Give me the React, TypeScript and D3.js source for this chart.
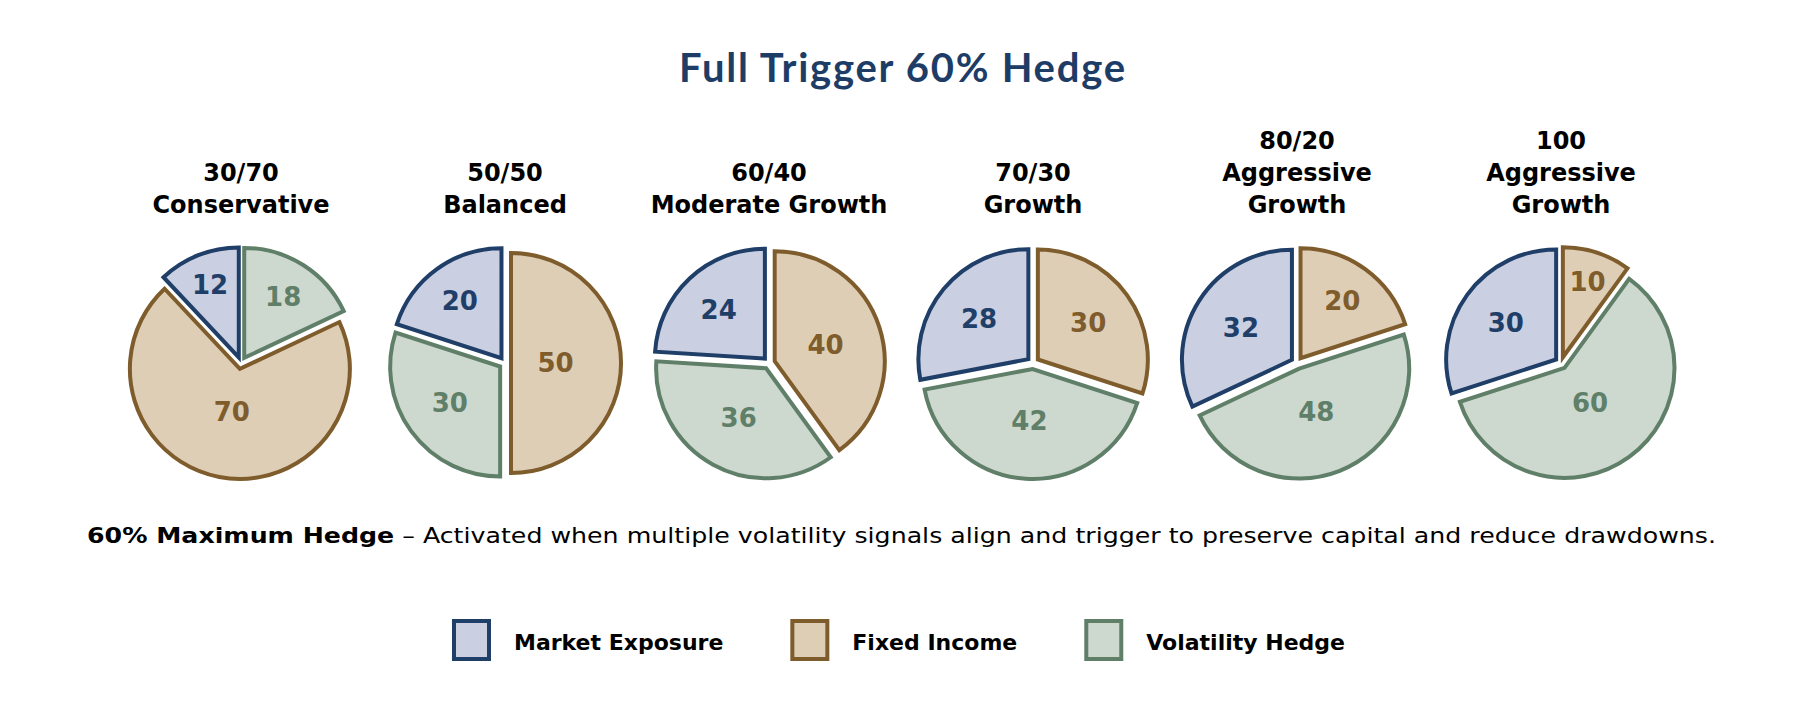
import * as d3 from "d3";
import { useEffect, useRef } from "react";

// chart values
const categories = ["30/70", "50/50", "60/40", "70/30", "80/20", "100"];
const subtitles = [
  ["Conservative"],
  ["Balanced"],
  ["Moderate Growth"],
  ["Growth"],
  ["Aggressive", "Growth"],
  ["Aggressive", "Growth"],
];
const seriesNames = ["Market Exposure", "Fixed Income", "Volatility Hedge"];
const marketExposure = [12, 20, 24, 28, 32, 30];
const fixedIncome = [70, 50, 40, 30, 20, 10];
const volatilityHedge = [18, 30, 36, 42, 48, 60];
// clockwise from 12 o'clock
const sliceOrder = [
  ["Volatility Hedge", "Fixed Income", "Market Exposure"],
  ["Fixed Income", "Volatility Hedge", "Market Exposure"],
  ["Fixed Income", "Volatility Hedge", "Market Exposure"],
  ["Fixed Income", "Volatility Hedge", "Market Exposure"],
  ["Fixed Income", "Volatility Hedge", "Market Exposure"],
  ["Fixed Income", "Volatility Hedge", "Market Exposure"],
];

const title = "Full Trigger 60% Hedge";
const noteBold = "60% Maximum Hedge";
const noteText =
  " \u2013 Activated when multiple volatility signals align and trigger to preserve capital and reduce drawdowns.";

const fills: Record<string, string> = {
  "Market Exposure": "#cacfe1",
  "Fixed Income": "#dfceb6",
  "Volatility Hedge": "#cdd8cf",
};
const strokes: Record<string, string> = {
  "Market Exposure": "#1f3e68",
  "Fixed Income": "#7e5c2c",
  "Volatility Hedge": "#5f7f68",
};

const W = 1800;
const H = 716;
const FONT = "'DejaVu Sans', sans-serif";

type Slice = { name: string; value: number };

const App = () => {
  const ref = useRef<SVGSVGElement | null>(null);

  useEffect(() => {
    document.body.style.margin = "0";
    if (!ref.current) return;
    const svg = d3.select(ref.current);
    svg.selectAll("*").remove();

    svg.append("rect").attr("width", W).attr("height", H).attr("fill", "#fff");

    const fit = (
      sel: d3.Selection<SVGTextElement, unknown, null, undefined>,
      target: number,
      adjust = "spacingAndGlyphs"
    ) => {
      const len = (sel.node() as SVGTextElement).getComputedTextLength();
      if (Math.abs(len - target) > 2) {
        sel.attr("textLength", target).attr("lengthAdjust", adjust);
      }
    };

    // title
    const t = svg
      .append("text")
      .attr("x", 902)
      .attr("y", 82)
      .attr("text-anchor", "middle")
      .attr("font-family", "Lato, sans-serif")
      .attr("font-weight", "bold")
      .attr("font-size", 40)
      .attr("fill", "#1e3d66")
      .text(title);
    fit(t, 446, "spacing");

    const x = d3.scalePoint<string>().domain(categories).range([241, 1561]);
    const cy = 363;
    const r = 110;
    const explode = 6;

    const values: Record<string, number[]> = {
      "Market Exposure": marketExposure,
      "Fixed Income": fixedIncome,
      "Volatility Hedge": volatilityHedge,
    };

    const pie = d3
      .pie<Slice>()
      .sort(null)
      .value((d) => d.value);
    const arc = d3.arc<d3.PieArcDatum<Slice>>().innerRadius(0).outerRadius(r);

    categories.forEach((cat, i) => {
      const cx = x(cat)!;
      const g = svg.append("g").attr("transform", `translate(${cx},${cy})`);

      // heading, bottom line sits at a fixed baseline
      const lines = [cat, ...subtitles[i]];
      lines.forEach((ln, j) => {
        g.append("text")
          .attr("x", 0)
          .attr("y", 213 - cy - (lines.length - 1 - j) * 32)
          .attr("text-anchor", "middle")
          .attr("font-family", FONT)
          .attr("font-weight", "bold")
          .attr("font-size", 24)
          .attr("fill", "#000")
          .text(ln);
      });

      const data: Slice[] = sliceOrder[i].map((name) => ({ name, value: values[name][i] }));
      const total = d3.sum(data, (d) => d.value);
      const arcs = pie(data);

      arcs.forEach((a) => {
        const mid = (a.startAngle + a.endAngle) / 2;
        const dx = Math.sin(mid) * explode;
        const dy = -Math.cos(mid) * explode;
        g.append("path")
          .attr("d", arc(a)!)
          .attr("transform", `translate(${dx},${dy})`)
          .attr("fill", fills[a.data.name])
          .attr("stroke", strokes[a.data.name])
          .attr("stroke-width", 4)
          .attr("stroke-linejoin", "miter");
      });

      arcs.forEach((a) => {
        const mid = (a.startAngle + a.endAngle) / 2;
        const p = a.data.value / total;
        const lr = r * Math.max(0.45, 0.86 - 0.8 * p);
        g.append("text")
          .attr("x", Math.sin(mid) * lr)
          .attr("y", -Math.cos(mid) * lr)
          .attr("dy", "0.36em")
          .attr("text-anchor", "middle")
          .attr("font-family", FONT)
          .attr("font-weight", "bold")
          .attr("font-size", 26)
          .attr("fill", strokes[a.data.name])
          .text(a.data.value);
      });
    });

    // footnote
    const note = svg
      .append("text")
      .attr("x", 87)
      .attr("y", 543)
      .attr("font-family", FONT)
      .attr("font-size", 22)
      .attr("fill", "#000");
    note.append("tspan").attr("font-weight", "bold").text(noteBold);
    note.append("tspan").text(noteText);
    fit(note, 1629);

    // legend
    const legend = svg.append("g");
    let lx = 0;
    const boxW = 39;
    const boxH = 42;
    seriesNames.forEach((name) => {
      const item = legend.append("g").attr("transform", `translate(${lx},0)`);
      item
        .append("rect")
        .attr("x", 2)
        .attr("y", 621)
        .attr("width", boxW - 4)
        .attr("height", boxH - 4)
        .attr("fill", fills[name])
        .attr("stroke", strokes[name])
        .attr("stroke-width", 4);
      const txt = item
        .append("text")
        .attr("x", boxW + 23)
        .attr("y", 650)
        .attr("font-family", FONT)
        .attr("font-weight", "bold")
        .attr("font-size", 22)
        .attr("fill", "#000")
        .text(name);
      const tw = (txt.node() as SVGTextElement).getComputedTextLength();
      lx += boxW + 23 + tw + 67;
    });
    const legendW = lx - 67;
    legend.attr("transform", `translate(${898.5 - legendW / 2},0)`);
  }, []);

  return (
    <svg
      ref={ref}
      width={W}
      height={H}
      viewBox={`0 0 ${W} ${H}`}
      style={{ display: "block" }}
    />
  );
};

export default App;
